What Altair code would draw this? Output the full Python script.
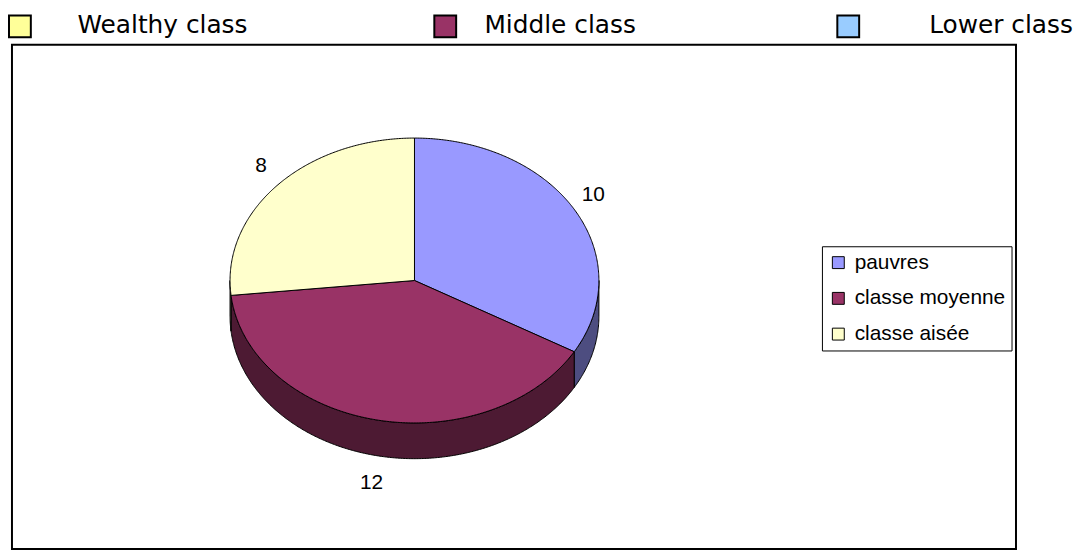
import numpy as np
import pandas as pd
import altair as alt

# ---- data ----
categories = ["pauvres", "classe moyenne", "classe aisée"]
values = [10, 12, 8]
top_colors = ["#9999ff", "#993366", "#ffffcc"]
side_colors = ["#4d4d80", "#4d1a33", "#808066"]
header_labels = ["Wealthy class", "Middle class", "Lower class"]
header_colors = ["#ffff99", "#993366", "#99ccff"]

# ---- layout (chart pixel space; page = chart + 8) ----
W, H = 1082, 546
CX, CY = 409.5, 272.5
RX = 185.8
TILT = 143.5 / 185.8
DEPTH = 36.0 / 185.8

x_scale = alt.Scale(domain=[-CX / RX, (W - CX) / RX], range=[0, W], nice=False, zero=False)
y_scale = alt.Scale(domain=[-(H - CY) / RX, CY / RX], range=[H, 0], nice=False, zero=False)

total = float(sum(values))
ends = np.cumsum(values) / total * 360.0
starts = np.concatenate([[0.0], ends[:-1]])


def ell(deg, drop=0.0):
    r = np.radians(deg)
    return np.sin(r), np.cos(r) * TILT - drop


top_rows, side_rows, lab_rows = [], [], []
for cat, v, a0, a1 in zip(categories, values, starts, ends):
    th = np.linspace(a0, a1, int((a1 - a0) * 2) + 2)
    pts = [(0.0, 0.0)] + [ell(t) for t in th] + [(0.0, 0.0)]
    for i, (x, y) in enumerate(pts):
        top_rows.append({"cat": cat, "i": i, "x": x, "y": y})
    f0, f1 = max(a0, 90.0), min(a1, 270.0)
    if f1 > f0:
        th = np.linspace(f0, f1, int((f1 - f0) * 2) + 2)
        up = [ell(t) for t in th]
        down = [ell(t, DEPTH) for t in th[::-1]]
        poly = up + down + [up[0]]
        for i, (x, y) in enumerate(poly):
            side_rows.append({"cat": cat, "i": i, "x": x, "y": y})
    mid = np.radians((a0 + a1) / 2)
    lx = 1.12 * np.sin(mid)
    ly = 1.2 * np.cos(mid) * TILT - (DEPTH if np.cos(mid) < 0 else 0.0)
    lab_rows.append({"cat": cat, "x": lx, "y": ly, "t": str(v)})

top_df = pd.DataFrame(top_rows)
side_df = pd.DataFrame(side_rows)
lab_df = pd.DataFrame(lab_rows)

X = alt.X("x:Q", scale=x_scale, axis=None)
Y = alt.Y("y:Q", scale=y_scale, axis=None)

one = pd.DataFrame({"k": [0]})

box = alt.Chart(one).mark_rect(fill="white", stroke="black", strokeWidth=2).encode(
    x=alt.value(4), x2=alt.value(1015.5), y=alt.value(35), y2=alt.value(543)
)

header_layers = []
sq_x = [12, 440.5, 846.5]
tx_x = [70, 480, 928]
for lab, col, sx, tx in zip(header_labels, header_colors, sq_x, tx_x):
    d = pd.DataFrame({"label": [lab]})
    header_layers.append(
        alt.Chart(d).mark_square(size=484, stroke="black", strokeWidth=2, fill=col, opacity=1).encode(
            x=alt.value(sx), y=alt.value(16.5)
        )
    )
    header_layers.append(
        alt.Chart(d).mark_text(font="DejaVu Sans", fontSize=25, color="black", align="left",
                               baseline="alphabetic").encode(
            x=alt.value(tx), y=alt.value(23), text="label:N"
        )
    )

sides = alt.Chart(side_df).mark_line(stroke="black", strokeWidth=1, fillOpacity=1).encode(
    x=X, y=Y,
    fill=alt.Fill("cat:N", scale=alt.Scale(domain=categories, range=side_colors), legend=None),
    detail="cat:N",
    order="i:Q",
)

tops = alt.Chart(top_df).mark_line(stroke="black", strokeWidth=1, fillOpacity=1).encode(
    x=X, y=Y,
    fill=alt.Fill(
        "cat:N",
        scale=alt.Scale(domain=categories, range=top_colors),
        legend=alt.Legend(
            title=None, orient="none", legendX=820, legendY=238,
            symbolType="square", symbolSize=144, symbolStrokeColor="black",
            symbolStrokeWidth=1, symbolOpacity=1,
            labelFont="Liberation Sans", labelFontSize=21, labelColor="black",
            labelLimit=400, labelOffset=6, rowPadding=14,
            strokeColor="black", padding=6,
        ),
    ),
    detail="cat:N",
    order="i:Q",
)

labels = alt.Chart(lab_df).mark_text(font="Liberation Sans", fontSize=21, color="black",
                                     align="center", baseline="middle").encode(
    x=X, y=Y, text="t:N"
)

chart = alt.layer(box, *header_layers, sides, tops, labels).resolve_scale(
    fill="independent"
).properties(
    width=W, height=H, padding=0, autosize=alt.AutoSizeParams(type="none"), background="white"
).configure_view(stroke=None)

chart.save("out.html", embed_options={"renderer": "svg", "actions": False})
